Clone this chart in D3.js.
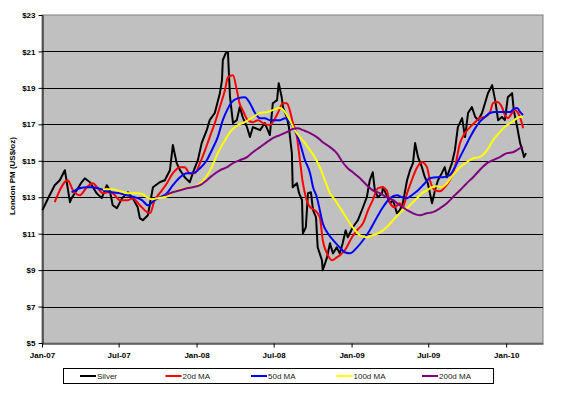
<!DOCTYPE html>
<html>
<head>
<meta charset="utf-8">
<script src="https://cdn.jsdelivr.net/npm/d3@7"></script>
<style>
  body { margin: 0; background: #fff; }
  svg { display: block; font-family: "Liberation Sans", Arial, sans-serif; }
</style>
</head>
<body>
<script>
// London PM silver fix and its moving averages
var silver = [
  ["2007-01-02",12.29],["2007-01-19",13.11],["2007-01-31",13.66],["2007-02-12",13.93],["2007-02-24",14.48],
  ["2007-03-08",12.73],["2007-03-12",12.95],["2007-03-24",13.38],["2007-04-03",13.77],["2007-04-12",14.04],
  ["2007-04-24",13.82],["2007-05-10",13.22],["2007-05-22",12.95],["2007-06-03",13.66],["2007-06-10",13.38],
  ["2007-06-17",12.56],["2007-06-27",12.40],["2007-07-09",12.95],["2007-07-23",13.27],["2007-08-03",12.95],
  ["2007-08-15",12.45],["2007-08-20",11.85],["2007-08-27",11.74],["2007-09-08",12.01],["2007-09-20",13.55],
  ["2007-10-06",13.82],["2007-10-18",13.93],["2007-10-30",14.48],["2007-11-06",15.86],["2007-11-15",14.87],
  ["2007-11-23",14.48],["2007-12-04",14.10],["2007-12-16",13.82],["2007-12-23",14.32],["2008-01-04",15.03],
  ["2008-01-13",15.97],["2008-01-25",16.68],["2008-02-01",17.23],["2008-02-13",17.62],["2008-02-25",18.71],
  ["2008-03-01",19.43],["2008-03-03",20.53],["2008-03-10",20.91],["2008-03-15",20.97],["2008-03-20",18.49],
  ["2008-03-27",17.07],["2008-04-05",17.23],["2008-04-12",17.95],["2008-04-19",17.40],["2008-04-29",16.85],
  ["2008-05-06",16.30],["2008-05-13",16.85],["2008-05-30",16.68],["2008-06-10",17.07],["2008-06-22",16.41],
  ["2008-06-29",18.16],["2008-07-09",18.33],["2008-07-13",19.26],["2008-07-20",18.49],["2008-07-23",17.95],
  ["2008-08-01",17.40],["2008-08-06",16.85],["2008-08-13",15.42],["2008-08-15",13.55],["2008-08-25",13.77],
  ["2008-08-30",13.22],["2008-09-06",12.84],["2008-09-08",11.02],["2008-09-15",11.35],["2008-09-20",13.22],
  ["2008-09-27",13.27],["2008-10-02",12.29],["2008-10-09",11.90],["2008-10-13",10.25],["2008-10-23",9.54],
  ["2008-10-25",8.99],["2008-11-04",9.70],["2008-11-11",10.47],["2008-11-18",9.92],["2008-11-27",10.25],
  ["2008-12-04",9.92],["2008-12-11",10.47],["2008-12-18",11.19],["2008-12-23",10.80],["2009-01-04",11.35],
  ["2009-01-16",11.74],["2009-01-28",12.45],["2009-02-06",13.00],["2009-02-13",13.93],["2009-02-20",14.37],
  ["2009-02-25",13.38],["2009-03-04",13.00],["2009-03-14",13.22],["2009-03-16",13.55],["2009-03-25",13.11],
  ["2009-04-02",12.67],["2009-04-09",12.84],["2009-04-18",12.12],["2009-04-25",12.29],["2009-05-02",12.67],
  ["2009-05-12",13.93],["2009-05-19",14.48],["2009-05-26",14.87],["2009-05-31",15.97],["2009-06-07",15.20],
  ["2009-06-16",14.65],["2009-06-23",14.10],["2009-06-30",13.77],["2009-07-10",12.67],["2009-07-17",13.38],
  ["2009-07-24",13.93],["2009-08-02",14.32],["2009-08-09",14.65],["2009-08-14",14.10],["2009-08-26",14.87],
  ["2009-09-02",15.58],["2009-09-09",16.85],["2009-09-19",17.34],["2009-09-26",16.30],["2009-10-03",17.62],
  ["2009-10-12",17.95],["2009-10-20",17.40],["2009-10-27",17.23],["2009-11-05",17.62],["2009-11-12",18.16],
  ["2009-11-19",18.71],["2009-11-29",19.15],["2009-12-06",18.33],["2009-12-13",17.23],["2009-12-22",17.40],
  ["2009-12-29",17.23],["2010-01-05",18.49],["2010-01-15",18.71],["2010-01-19",17.78],["2010-01-27",16.85],
  ["2010-02-03",15.97],["2010-02-10",15.42],["2010-02-12",15.20],["2010-02-17",15.42]
]

var ma20 = [
  ["2007-01-31",12.73],["2007-03-03",13.93],["2007-03-15",13.38],["2007-03-31",13.11],["2007-04-17",13.55],
  ["2007-05-01",13.77],["2007-05-13",13.49],["2007-05-25",13.22],["2007-06-05",13.27],["2007-06-17",13.22],
  ["2007-07-04",12.84],["2007-07-23",12.84],["2007-08-03",12.95],["2007-08-20",12.56],["2007-09-06",12.18],
  ["2007-09-13",12.12],["2007-09-24",12.84],["2007-10-06",13.22],["2007-10-23",13.77],["2007-11-06",14.32],
  ["2007-11-23",14.65],["2007-12-04",14.65],["2007-12-16",14.32],["2007-12-28",14.32],["2008-01-09",14.87],
  ["2008-01-21",15.58],["2008-02-01",16.30],["2008-02-13",17.07],["2008-02-25",17.95],["2008-03-08",18.88],
  ["2008-03-15",19.59],["2008-03-27",19.70],["2008-04-05",18.88],["2008-04-12",18.11],["2008-04-19",17.78],
  ["2008-05-01",17.23],["2008-05-13",17.12],["2008-05-25",17.23],["2008-06-06",17.07],["2008-06-22",16.96],
  ["2008-06-29",17.12],["2008-07-11",17.62],["2008-07-23",18.16],["2008-08-01",18.16],["2008-08-08",17.78],
  ["2008-08-15",17.12],["2008-08-25",16.30],["2008-09-01",15.03],["2008-09-08",13.77],["2008-09-17",12.84],
  ["2008-09-25",12.45],["2008-10-06",12.29],["2008-10-18",11.90],["2008-10-25",10.64],["2008-11-04",9.92],
  ["2008-11-16",9.54],["2008-11-27",9.70],["2008-12-04",9.81],["2008-12-16",10.09],["2009-01-02",10.80],
  ["2009-01-14",11.19],["2009-01-28",11.57],["2009-02-09",12.29],["2009-02-20",12.84],["2009-03-04",13.49],
  ["2009-03-14",13.55],["2009-03-25",13.38],["2009-04-02",12.67],["2009-04-13",12.45],["2009-04-25",12.67],
  ["2009-05-02",12.45],["2009-05-12",13.22],["2009-05-23",13.93],["2009-06-05",14.65],["2009-06-16",14.92],
  ["2009-06-28",14.65],["2009-07-05",13.93],["2009-07-17",13.38],["2009-07-29",13.33],["2009-08-09",13.55],
  ["2009-08-21",13.93],["2009-09-02",14.65],["2009-09-14",15.97],["2009-09-26",16.52],["2009-10-08",16.85],
  ["2009-10-20",17.12],["2009-10-30",17.34],["2009-11-12",17.40],["2009-11-24",17.67],["2009-12-01",18.16],
  ["2009-12-10",18.22],["2009-12-22",17.95],["2009-12-29",17.51],["2010-01-05",17.34],["2010-01-15",17.62],
  ["2010-01-22",17.78],["2010-01-29",17.62],["2010-02-05",17.23],["2010-02-10",16.79]
]

var ma50 = [
  ["2007-03-12",13.27],["2007-03-31",13.49],["2007-04-17",13.55],["2007-04-29",13.55],["2007-05-13",13.49],
  ["2007-05-29",13.38],["2007-06-15",13.27],["2007-07-04",13.22],["2007-07-20",13.11],["2007-08-08",13.00],
  ["2007-08-25",12.84],["2007-09-08",12.56],["2007-09-24",12.84],["2007-10-06",13.00],["2007-10-23",13.22],
  ["2007-11-06",13.66],["2007-11-23",14.10],["2007-12-09",14.32],["2007-12-23",14.32],["2008-01-09",14.59],
  ["2008-01-25",15.03],["2008-02-06",15.58],["2008-02-20",16.30],["2008-03-03",17.23],["2008-03-13",17.78],
  ["2008-03-24",18.22],["2008-04-08",18.44],["2008-04-24",18.49],["2008-05-06",18.16],["2008-05-18",17.62],
  ["2008-05-30",17.34],["2008-06-10",17.34],["2008-06-22",17.23],["2008-07-04",17.23],["2008-07-16",17.23],
  ["2008-07-28",17.34],["2008-08-08",17.12],["2008-08-20",16.68],["2008-09-01",15.97],["2008-09-13",15.03],
  ["2008-09-25",14.32],["2008-10-02",13.55],["2008-10-11",13.00],["2008-10-18",12.29],["2008-10-25",11.57],
  ["2008-11-06",11.02],["2008-11-23",10.52],["2008-12-04",10.25],["2008-12-16",9.98],["2008-12-28",9.92],
  ["2009-01-14",10.25],["2009-01-28",10.64],["2009-02-13",11.19],["2009-03-02",11.90],["2009-03-16",12.45],
  ["2009-04-02",12.95],["2009-04-18",13.11],["2009-04-30",13.00],["2009-05-12",12.95],["2009-05-23",13.11],
  ["2009-06-07",13.38],["2009-06-23",13.77],["2009-07-05",14.04],["2009-07-22",14.10],["2009-08-05",14.10],
  ["2009-08-21",14.21],["2009-09-02",14.65],["2009-09-14",15.20],["2009-09-26",15.75],["2009-10-08",16.30],
  ["2009-10-20",16.79],["2009-10-30",17.12],["2009-11-12",17.40],["2009-11-24",17.62],["2009-12-06",17.67],
  ["2009-12-17",17.67],["2009-12-29",17.67],["2010-01-10",17.67],["2010-01-19",17.84],["2010-01-27",17.89],
  ["2010-02-03",17.67],["2010-02-10",17.51]
]

var ma100 = [
  ["2007-05-25",13.44],["2007-06-15",13.44],["2007-07-04",13.33],["2007-07-23",13.22],["2007-08-13",13.22],
  ["2007-08-27",13.16],["2007-09-06",13.00],["2007-09-17",12.89],["2007-10-02",12.95],["2007-10-18",13.00],
  ["2007-11-04",13.22],["2007-11-18",13.38],["2007-12-04",13.49],["2007-12-21",13.55],["2008-01-04",13.66],
  ["2008-01-21",14.04],["2008-02-06",14.65],["2008-02-20",15.42],["2008-03-08",16.13],["2008-03-24",16.68],
  ["2008-04-08",16.96],["2008-04-24",17.12],["2008-05-13",17.40],["2008-05-30",17.62],["2008-06-15",17.67],
  ["2008-06-29",17.78],["2008-07-16",17.89],["2008-07-28",17.67],["2008-08-08",17.23],["2008-08-20",16.68],
  ["2008-09-01",16.30],["2008-09-13",15.97],["2008-09-25",15.58],["2008-10-06",15.20],["2008-10-18",14.65],
  ["2008-10-30",13.93],["2008-11-11",13.22],["2008-11-23",12.84],["2008-12-04",12.45],["2008-12-16",12.01],
  ["2008-12-28",11.57],["2009-01-09",11.19],["2009-01-21",10.91],["2009-02-06",10.80],["2009-02-20",10.91],
  ["2009-03-09",11.07],["2009-03-25",11.35],["2009-04-09",11.74],["2009-04-20",12.01],["2009-05-02",12.29],
  ["2009-05-12",12.40],["2009-05-23",12.67],["2009-06-05",12.95],["2009-06-16",13.22],["2009-06-28",13.38],
  ["2009-07-10",13.55],["2009-07-22",13.60],["2009-08-02",13.55],["2009-08-14",13.77],["2009-08-28",14.21],
  ["2009-09-14",14.65],["2009-09-30",14.92],["2009-10-15",15.14],["2009-10-30",15.20],["2009-11-17",15.58],
  ["2009-12-01",16.13],["2009-12-17",16.57],["2010-01-03",16.96],["2010-01-15",17.12],["2010-01-27",17.34],
  ["2010-02-03",17.40],["2010-02-10",17.40]
]

var ma200 = [
  ["2007-10-18",13.11],["2007-11-06",13.27],["2007-11-23",13.38],["2007-12-09",13.49],["2007-12-23",13.55],
  ["2008-01-09",13.66],["2008-01-25",13.93],["2008-02-08",14.21],["2008-02-25",14.48],["2008-03-13",14.65],
  ["2008-03-27",14.87],["2008-04-12",15.03],["2008-04-29",15.20],["2008-05-13",15.47],["2008-05-30",15.75],
  ["2008-06-15",16.02],["2008-06-29",16.24],["2008-07-16",16.41],["2008-08-01",16.57],["2008-08-15",16.74],
  ["2008-08-27",16.79],["2008-09-08",16.68],["2008-09-25",16.52],["2008-10-11",16.30],["2008-10-25",16.02],
  ["2008-11-11",15.75],["2008-11-27",15.42],["2008-12-11",14.92],["2008-12-23",14.59],["2009-01-04",14.37],
  ["2009-01-21",14.04],["2009-02-06",13.66],["2009-02-20",13.38],["2009-03-09",13.22],["2009-03-25",13.00],
  ["2009-04-09",12.84],["2009-04-25",12.56],["2009-05-12",12.29],["2009-05-26",12.12],["2009-06-11",12.01],
  ["2009-06-28",12.12],["2009-07-12",12.18],["2009-07-29",12.40],["2009-08-14",12.67],["2009-08-28",13.00],
  ["2009-09-14",13.38],["2009-09-30",13.77],["2009-10-15",14.10],["2009-10-30",14.48],["2009-11-17",14.87],
  ["2009-12-01",15.03],["2009-12-17",15.20],["2010-01-03",15.42],["2010-01-17",15.47],["2010-02-03",15.69],
  ["2010-02-10",15.75]
]

var seriesNames = ["Silver", "20d MA", "50d MA", "100d MA", "200d MA"]
var seriesColors = ["#000000", "#FF0000", "#0000FF", "#FFFF00", "#800080"]
var yTicks = [5, 7, 9, 11, 13, 15, 17, 19, 21, 23]
var xTicks = ["2007-01-01", "2007-07-01", "2008-01-01", "2008-07-01", "2009-01-01", "2009-07-01", "2010-01-01"]
var xStart = "2007-01-01"
var xEnd = "2010-03-29"

var parse = d3.timeParse("%Y-%m-%d")

var margin = {left: 42, top: 15, right: 33, bottom: 51}
var width = 576, height = 394
var plotW = width - margin.left - margin.right
var plotH = height - margin.top - margin.bottom

var x = d3.scaleTime()
          .domain([parse(xStart), parse(xEnd)])
          .range([margin.left, margin.left + plotW])

var y = d3.scaleLinear()
          .domain([5, 23])
          .range([margin.top + plotH, margin.top])

var svg = d3.select("body")
            .append("svg")
            .attr("width", width)
            .attr("height", height)

// plot area
svg.append("rect")
   .attr("x", margin.left)
   .attr("y", margin.top)
   .attr("width", plotW)
   .attr("height", plotH)
   .attr("fill", "#C0C0C0")
   .attr("stroke", "#808080")
   .attr("stroke-width", 1)

// gridlines
svg.selectAll(".grid")
   .data(yTicks.slice(1, -1))
   .enter()
   .append("line")
   .attr("class", "grid")
   .attr("x1", margin.left)
   .attr("x2", margin.left + plotW)
   .attr("y1", d => Math.round(y(d)) + 0.5)
   .attr("y2", d => Math.round(y(d)) + 0.5)
   .attr("stroke", "#000")
   .attr("stroke-width", 1)

var yAxis = svg.append("g")
               .attr("transform", "translate(" + (margin.left + 0.5) + ",0)")
               .call(d3.axisLeft(y).tickValues(yTicks).tickFormat(d => "$" + d).tickSize(4).tickSizeOuter(0))

var xAxis = svg.append("g")
               .attr("transform", "translate(0," + (margin.top + plotH + 0.5) + ")")
               .call(d3.axisBottom(x).tickValues(xTicks.map(parse)).tickFormat(d3.timeFormat("%b-%y")).tickSize(4).tickSizeOuter(0))

svg.selectAll(".domain").attr("stroke", "#000")
svg.selectAll(".tick line").attr("stroke", "#000")
svg.selectAll(".tick text")
   .attr("font-size", "8px")
   .attr("font-weight", "bold")
   .attr("fill", "#000")
   .attr("font-family", "'Liberation Sans', Arial, sans-serif")
xAxis.selectAll(".tick text").attr("dy", "0.9em")

// y axis title
svg.append("text")
   .attr("transform", "translate(15,176) rotate(-90)")
   .attr("text-anchor", "middle")
   .attr("font-size", "8px")
   .attr("font-weight", "bold")
   .text("London PM (US$/oz)")

// series
var lineStraight = d3.line()
                     .x(d => x(parse(d[0])))
                     .y(d => y(d[1]))

var lineSmooth = d3.line()
                   .curve(d3.curveMonotoneX)
                   .x(d => x(parse(d[0])))
                   .y(d => y(d[1]))

var allSeries = [silver, ma20, ma50, ma100, ma200]

svg.append("g")
   .selectAll("path")
   .data(allSeries)
   .enter()
   .append("path")
   .attr("d", (d, i) => i === 0 ? lineStraight(d) : lineSmooth(d))
   .attr("fill", "none")
   .attr("stroke", (d, i) => seriesColors[i])
   .attr("stroke-width", 2)
   .attr("stroke-linejoin", "round")

// legend
var legend = svg.append("g")

legend.append("rect")
      .attr("x", 63.5)
      .attr("y", 368.5)
      .attr("width", 430)
      .attr("height", 15)
      .attr("fill", "#fff")
      .attr("stroke", "#000")

var legendX = d3.scalePoint()
                .domain(seriesNames)
                .range([80, 422])

var items = legend.selectAll(".item")
                  .data(seriesNames)
                  .enter()
                  .append("g")
                  .attr("class", "item")
                  .attr("transform", d => "translate(" + legendX(d) + ",376)")

items.append("line")
     .attr("x1", 0)
     .attr("x2", 16)
     .attr("stroke", (d, i) => seriesColors[i])
     .attr("stroke-width", 2)

items.append("text")
     .attr("x", 17)
     .attr("dy", "0.35em")
     .attr("font-size", "8px")
     .attr("fill", "#222")
     .text(d => d)
</script>
</body>
</html>
